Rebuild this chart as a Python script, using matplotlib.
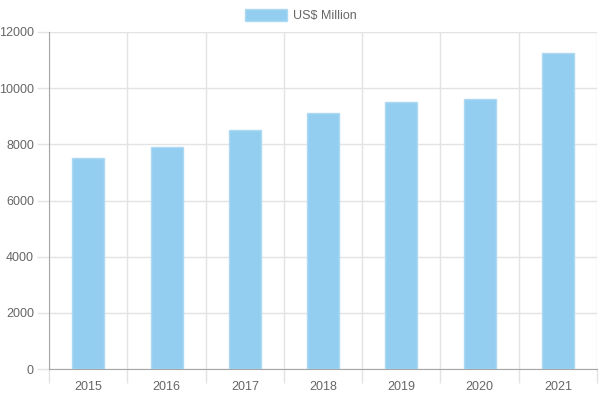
import matplotlib.pyplot as plt
import numpy as np

years = ['2015', '2016', '2017', '2018', '2019', '2020', '2021']
values = [7500, 7900, 8500, 9100, 9500, 9600, 11270]
label = 'US$ Million'

plt.rcParams['font.family'] = ['Liberation Sans', 'DejaVu Sans']

fig = plt.figure(figsize=(6, 4), dpi=100)
ax = fig.add_axes([0.082, 0.0775, 0.913, 0.8425])

x = np.arange(len(years))
ax.bar(x, values, width=0.41, color='#93cef0', edgecolor='#aed9f3', linewidth=1,
       label=label, zorder=3)

ax.set_xlim(-0.5, len(years) - 0.5)
ax.set_ylim(0, 12000)
ax.set_yticks(np.arange(0, 12001, 2000))
ax.set_xticks(x)
ax.set_xticklabels(years)
ax.set_xticks(np.arange(-0.5, len(years), 1), minor=True)

grid = '#e3e3e3'
ax.grid(axis='y', color=grid, linewidth=1, zorder=0)
ax.grid(axis='x', which='minor', color=grid, linewidth=1, zorder=0)
ax.tick_params(axis='x', which='major', length=0, pad=9, labelsize=9, labelcolor='#666666')
ax.tick_params(axis='x', which='minor', length=10, color=grid, width=1)
ax.tick_params(axis='y', length=9, color=grid, width=1, pad=2, labelsize=9, labelcolor='#666666')

for s in ['top', 'right']:
    ax.spines[s].set_visible(False)
ax.spines['left'].set_color('#a6a6a6')
ax.spines['bottom'].set_color('#a6a6a6')

fig.legend(loc='upper center', bbox_to_anchor=(0.502, 1.005), frameon=False, fontsize=9,
           handlelength=3.3, handleheight=1.05, handletextpad=0.55, labelcolor='#666666')

fig.savefig('out.png', dpi=100)
